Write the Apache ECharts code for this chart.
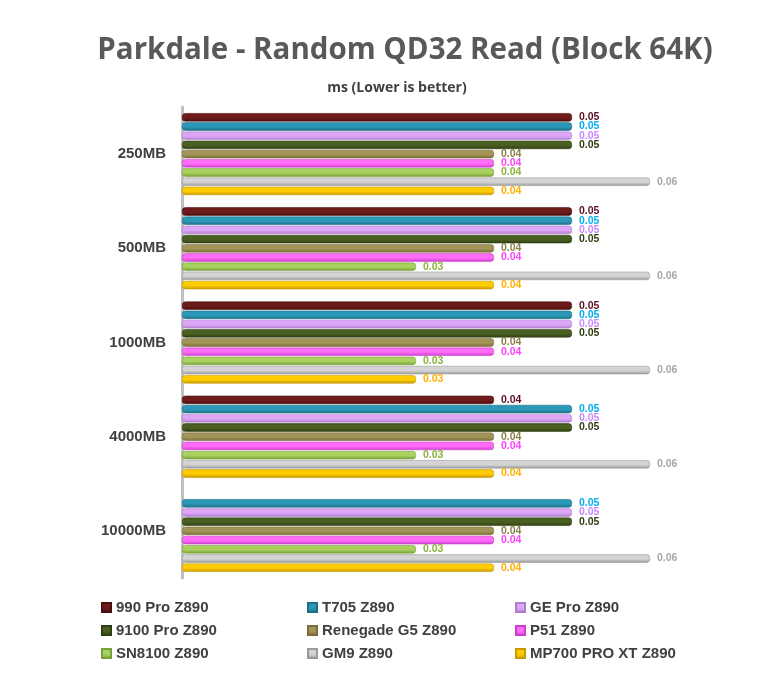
<!DOCTYPE html>
<html><head><meta charset="utf-8">
<script src="https://cdn.jsdelivr.net/npm/echarts@6/dist/echarts.min.js"></script>
<style>html,body{margin:0;padding:0;background:#fff}#c{width:780px;height:675px}</style>
</head><body><div id="c"></div>
<script>
const categories = ['250MB','500MB','1000MB','4000MB','10000MB'];
const seriesNames = ['990 Pro Z890','T705 Z890','GE Pro Z890','9100 Pro Z890','Renegade G5 Z890','P51 Z890','SN8100 Z890','GM9 Z890','MP700 PRO XT Z890'];
const v990 = [0.05,0.05,0.05,0.04,null];
const vT705 = [0.05,0.05,0.05,0.05,0.05];
const vGE = [0.05,0.05,0.05,0.05,0.05];
const v9100 = [0.05,0.05,0.05,0.05,0.05];
const vRenegade = [0.04,0.04,0.04,0.04,0.04];
const vP51 = [0.04,0.04,0.04,0.04,0.04];
const vSN8100 = [0.04,0.03,0.03,0.03,0.03];
const vGM9 = [0.06,0.06,0.06,0.06,0.06];
const vMP700 = [0.04,0.04,0.03,0.04,0.04];
const values = [v990,vT705,vGE,v9100,vRenegade,vP51,vSN8100,vGM9,vMP700];
const barColors = ['#6E1B1B','#2C98B8','#DDA6F7','#4A5F22','#A39457','#FF6CF7','#A8D160','#D4D4D4','#FFCC00'];
const darkColors = ['#4a0f0f','#1d6f88','#b07fcc','#2f3f12','#7a6d3a','#cc3fcc','#78a038','#9a9a9a','#c89a00'];
const labelColors = ['#5C1020','#00B0F0','#CC88FF','#2F3F12','#8C7F4A','#FF40FF','#8AB33F','#A6A6A6','#FFB000'];

const chart = echarts.init(document.getElementById('c'));
const series = seriesNames.map((n,i)=>({
  name:n, type:'bar', data:values[i],
  barGap:'10%', barCategoryGap:'13%',
  itemStyle:{
    color:{type:'linear',x:0,y:0,x2:0,y2:1,colorStops:[{offset:0,color:barColors[i]},{offset:0.55,color:barColors[i]},{offset:1,color:darkColors[i]}]},
    borderColor:darkColors[i], borderWidth:0.6, borderRadius:3
  },
  label:{show:true,position:'right',distance:7,formatter:p=>p.value==null?'':p.value.toFixed(2),
    color:labelColors[i],fontFamily:'Liberation Sans, Arial',fontWeight:'bold',fontSize:10.5},
  emphasis:{disabled:true}
}));
const legendText = {fontFamily:'Liberation Sans, Arial',fontWeight:'bold',fontSize:15,color:'#404040'};
function leg(left, names){
  return {left:left, top:595, orient:'vertical', itemGap:8, itemWidth:9, itemHeight:9, icon:'rect',
    data:names.map((n)=>({name:n})), textStyle:legendText, selectedMode:false};
}
chart.setOption({
  animation:false,
  backgroundColor:'#ffffff',
  title:[
    {text:'Parkdale - Random QD32 Read (Block 64K)',left:400,textAlign:'center',top:31,
      textStyle:{fontFamily:'Open Sans',fontWeight:'bold',fontSize:29.5,color:'#595959'}},
    {text:'ms (Lower is better)',left:392,textAlign:'center',top:76,
      textStyle:{fontFamily:'Open Sans',fontWeight:'bold',fontSize:14,color:'#404040'}}
  ],
  legend:[
    leg(96,[seriesNames[0],seriesNames[3],seriesNames[6]]),
    leg(302,[seriesNames[1],seriesNames[4],seriesNames[7]]),
    leg(510,[seriesNames[2],seriesNames[5],seriesNames[8]])
  ],
  grid:{left:182,right:52,top:107,bottom:97},
  xAxis:{type:'value',min:0,max:0.07,interval:0.01,show:false,splitLine:{show:false}},
  yAxis:{type:'category',data:categories,inverse:true,
    axisLine:{show:true,lineStyle:{color:'#C0C0C0',width:3}},
    axisTick:{show:false},
    axisLabel:{margin:16,fontFamily:'Liberation Sans, Arial',fontWeight:'bold',fontSize:15,color:'#404040'}},
  series:series
});
</script></body></html>
